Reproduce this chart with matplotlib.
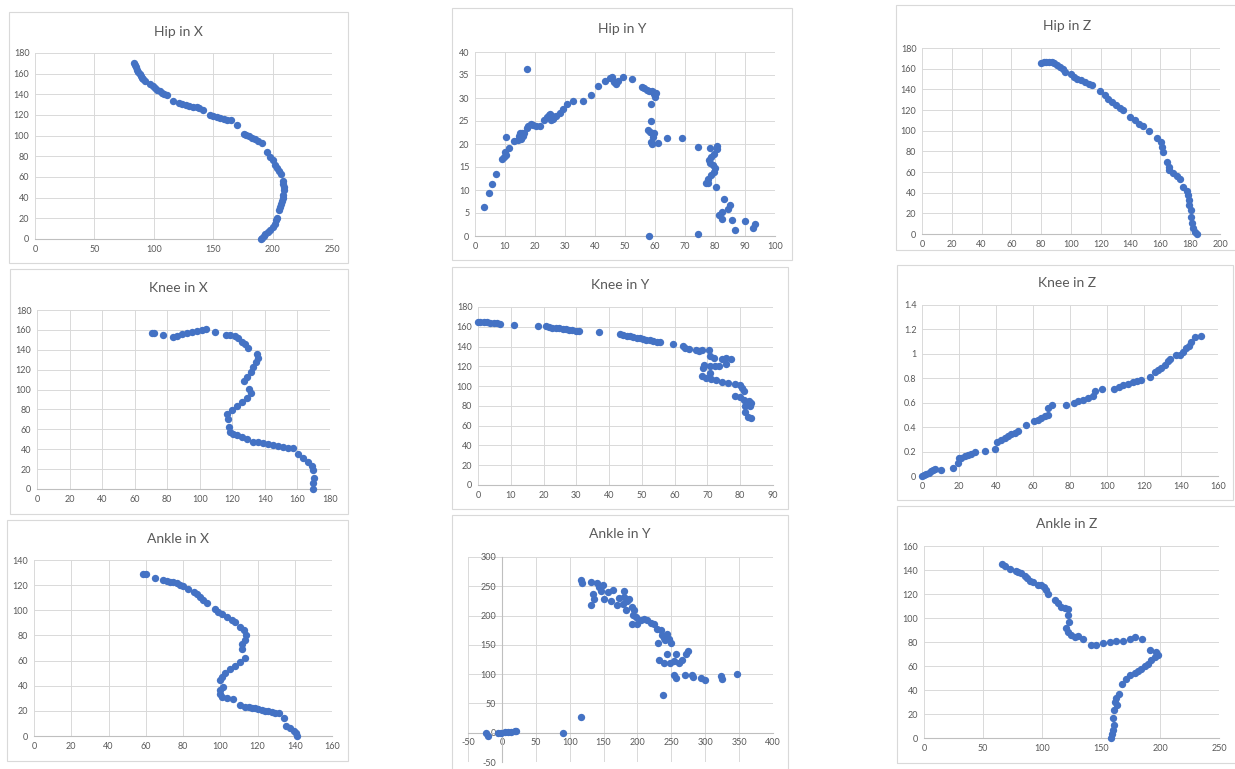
"""Lower-limb joint traces: hip, knee and ankle, each plotted per axis (X, Y, Z)."""

import matplotlib
matplotlib.use("Agg")
import matplotlib.pyplot as plt
import numpy as np
from matplotlib.patches import Rectangle
from matplotlib.ticker import FuncFormatter

W, H = 1235, 769

# ---- recorded samples, (horizontal value, vertical value) ----
hip_x = [(83, 170), (84, 168), (85, 166), (86, 164), (87, 162), (88, 160), (89, 158),
         (90, 156), (91, 155), (93, 153), (97, 150), (99, 148), (101, 146), (103, 144),
         (105, 143), (107, 141), (109, 140), (111, 139), (116, 134), (121, 132),
         (124, 131), (127, 130), (130, 129), (133, 128), (136, 128), (138, 127),
         (141, 125), (147, 120), (150, 119), (153, 118), (156, 117), (159, 116),
         (162, 115), (165, 115), (170, 110), (176, 102), (178, 101), (180, 100),
         (183, 98), (185, 97), (188, 95), (191, 93), (195, 84), (198, 79), (200, 76),
         (202, 72), (204, 69), (205, 66), (207, 63), (209, 56), (209, 53), (210, 50),
         (210, 47), (209, 43), (209, 40), (208, 37), (207, 34), (206, 31), (205, 28),
         (204, 20), (203, 18), (202, 15), (200, 12), (198, 9), (196, 7), (194, 5),
         (193, 3), (191, 1), (190, 0)]

hip_y = [(3.1, 6.2), (4.8, 9.4), (5.6, 11.2), (7.1, 13.5), (9.1, 16.7), (9.8, 17.1),
         (10.2, 17.6), (10.0, 18.3), (10.4, 21.6), (11.4, 19.2), (13.1, 20.7),
         (14.4, 20.8), (14.7, 21.8), (15.0, 22.4), (15.3, 21.4), (15.2, 21.0),
         (16.0, 21.8), (15.8, 22.3), (16.4, 22.3), (17.2, 23.4), (17.8, 24.0),
         (18.7, 24.3), (19.4, 24.2), (20.3, 23.9), (21.7, 23.9), (23.0, 25.2),
         (23.9, 25.9), (24.7, 26.2), (25.1, 26.5), (25.5, 26.0), (25.3, 25.3),
         (26.1, 25.5), (27.0, 26.1), (28.3, 26.8), (29.4, 27.6), (30.8, 28.8),
         (32.8, 29.4), (36.1, 29.4), (38.6, 30.7), (41.1, 32.6), (43.3, 33.7),
         (45.0, 34.4), (45.8, 34.6), (46.3, 33.5), (46.9, 33.1), (47.8, 33.6),
         (49.4, 34.6), (52.4, 34.1), (55.6, 32.3), (56.4, 32.2), (57.2, 31.8),
         (58.0, 31.5), (58.9, 31.5), (59.4, 31.3), (59.8, 30.8), (60.2, 31.0),
         (60.0, 30.2), (58.7, 28.8), (58.6, 25.0), (57.8, 23.1), (58.3, 22.6),
         (58.9, 22.4), (59.4, 21.6), (59.8, 22.4), (58.7, 20.5), (59.1, 20.1),
         (60.9, 20.3), (64.1, 21.3), (68.9, 21.3), (74.4, 19.4), (78.4, 19.2),
         (80.6, 19.5), (80.8, 18.9), (79.8, 17.9), (78.7, 17.2), (78.1, 16.5),
         (78.3, 15.8), (79.4, 15.4), (80.0, 14.7), (79.6, 14.0), (78.6, 13.2),
         (77.6, 12.3), (76.9, 11.6), (77.8, 11.6), (80.2, 10.7), (83.1, 8.0),
         (84.2, 5.8), (85.0, 6.7), (82.2, 5.3), (81.4, 4.6), (82.4, 3.8), (85.8, 3.5),
         (86.7, 1.3), (90.0, 3.3), (92.8, 1.8), (93.3, 2.6), (74.4, 0.4), (58.0, 0.0),
         (17.2, 36.2)]

hip_z = [(80.2, 165.8), (81.7, 166.2), (83.5, 166.5), (85.3, 166.5), (87.1, 166.2),
         (88.9, 165.5), (90.7, 163.9), (92.5, 161.6), (94.3, 159.4), (96.1, 157.1),
         (99.9, 154.5), (101.9, 152.0), (104.1, 150.4), (106.4, 148.7), (109.1, 147.1),
         (111.8, 145.5), (113.8, 143.9), (119.4, 138.4), (122.9, 134.3), (124.9, 131.0),
         (127.2, 127.8), (130.1, 124.6), (132.8, 122.3), (135.0, 120.4), (139.9, 113.3),
         (142.9, 110.1), (145.8, 106.9), (148.5, 104.3), (152.5, 99.8), (157.5, 93.0),
         (160.1, 89.2), (161.0, 84.4), (161.5, 79.5), (164.2, 69.9), (165.5, 65.0),
         (166.0, 61.8), (168.6, 58.6), (171.3, 56.0), (173.1, 52.8), (175.4, 45.7),
         (177.6, 41.9), (178.7, 37.7), (179.2, 32.8), (179.4, 28.0), (180.3, 23.2),
         (180.5, 16.7), (181.0, 10.9), (182.1, 5.5), (183.4, 1.9), (184.3, 0.0)]

knee_x = [(70.6, 157.2), (72.0, 157.2), (77.7, 154.9), (83.5, 152.9), (85.9, 154.2),
          (89.0, 155.5), (92.0, 156.9), (95.1, 158.2), (98.2, 159.2), (101.2, 159.9),
          (103.7, 160.6), (109.4, 158.2), (116.2, 154.9), (118.6, 154.9), (121.7, 153.5),
          (123.7, 151.5), (125.8, 148.2), (127.8, 145.5), (129.9, 141.5), (135.0, 135.4),
          (136.0, 131.4), (134.6, 128.1), (133.0, 123.0), (131.3, 118.0), (128.8, 113.0),
          (127.4, 108.6), (130.4, 100.6), (131.3, 96.2), (128.8, 91.9), (125.8, 87.8),
          (122.7, 83.8), (119.7, 79.8), (116.6, 75.1), (117.4, 70.4), (118.0, 62.0),
          (118.5, 57.7), (120.6, 55.0), (122.7, 54.3), (126.0, 52.6), (128.9, 50.3),
          (133.0, 47.6), (136.0, 46.8), (139.1, 45.9), (142.0, 45.0), (145.2, 44.2),
          (148.3, 43.4), (151.4, 42.6), (154.5, 41.7), (157.5, 40.9), (160.6, 34.9),
          (163.6, 30.8), (166.7, 27.5), (168.8, 23.5), (169.8, 19.1), (170.2, 10.7),
          (169.8, 5.7), (169.4, 0.0)]

knee_y = [(0.0, 164.8), (0.7, 164.8), (1.7, 164.5), (2.7, 164.5), (3.8, 164.1),
          (4.8, 163.8), (5.8, 163.4), (6.8, 163.1), (10.9, 162.1), (18.3, 161.1),
          (20.7, 160.4), (21.7, 159.7), (22.7, 159.1), (23.7, 158.7), (24.8, 158.4),
          (25.8, 157.7), (26.8, 157.4), (27.8, 157.0), (28.8, 156.7), (29.8, 156.0),
          (30.8, 155.7), (36.9, 154.3), (43.3, 153.0), (44.3, 151.6), (45.4, 151.0),
          (46.4, 150.3), (47.4, 149.6), (48.4, 148.9), (49.4, 148.3), (50.4, 147.6),
          (51.4, 146.9), (52.5, 146.2), (53.5, 145.6), (54.5, 144.9), (55.5, 144.2),
          (59.6, 142.5), (62.6, 140.8), (63.3, 138.5), (64.3, 137.5), (66.4, 136.8),
          (67.4, 135.4), (68.4, 136.8), (70.5, 136.1), (70.9, 130.0), (72.1, 128.3),
          (74.3, 127.7), (75.8, 128.0), (77.3, 127.7), (75.8, 122.6), (73.6, 120.6),
          (72.2, 119.9), (70.7, 119.9), (69.0, 121.3), (68.7, 118.2), (68.4, 109.8),
          (69.7, 108.1), (70.7, 113.1), (71.2, 107.1), (72.7, 105.7), (74.3, 104.4),
          (76.3, 103.0), (78.5, 101.7), (79.8, 101.0), (80.6, 98.3), (81.1, 94.6),
          (78.5, 89.5), (79.8, 88.8), (81.1, 86.1), (82.6, 84.8), (83.2, 82.7),
          (81.4, 79.4), (82.9, 79.4), (81.4, 74.3), (82.4, 68.6), (83.2, 67.5)]

knee_z = [(0.0, 0.0), (1.1, 0.008), (2.3, 0.019), (3.6, 0.027), (4.9, 0.038),
          (5.9, 0.049), (6.8, 0.057), (10.1, 0.052), (16.8, 0.063), (19.5, 0.109),
          (19.8, 0.144), (21.3, 0.149), (23.1, 0.16), (24.9, 0.171), (26.7, 0.182),
          (28.5, 0.198), (33.9, 0.204), (39.6, 0.223), (40.5, 0.28), (42.9, 0.296),
          (44.7, 0.313), (46.5, 0.326), (48.3, 0.34), (50.1, 0.353), (51.9, 0.367),
          (56.4, 0.421), (60.5, 0.448), (62.7, 0.462), (64.5, 0.476), (66.3, 0.489),
          (68.1, 0.503), (68.1, 0.557), (70.5, 0.584), (78.0, 0.584), (82.0, 0.595),
          (84.3, 0.612), (87.0, 0.625), (89.7, 0.639), (92.4, 0.652), (93.3, 0.699),
          (97.3, 0.712), (103.8, 0.715), (106.5, 0.731), (108.6, 0.742), (111.4, 0.756),
          (114.1, 0.769), (116.2, 0.78), (118.6, 0.786), (123.4, 0.807), (125.8, 0.851),
          (127.6, 0.864), (129.4, 0.883), (131.2, 0.905), (133.0, 0.938), (133.9, 0.96),
          (137.1, 0.987), (139.6, 0.987), (141.1, 1.019), (142.9, 1.046), (144.3, 1.068),
          (145.2, 1.101), (147.7, 1.139), (150.6, 1.147)]

ankle_x = [(58.7, 128.9), (59.9, 128.6), (64.9, 126.0), (69.4, 124.1), (71.2, 123.6),
           (73.0, 122.8), (74.8, 122.2), (76.6, 121.5), (78.4, 120.1), (79.8, 119.1),
           (82.9, 116.7), (85.9, 114.8), (87.7, 112.7), (89.1, 110.6), (90.9, 108.2),
           (92.7, 106.1), (97.2, 101.0), (99.0, 98.9), (100.8, 96.8), (103.5, 94.7),
           (106.2, 92.5), (108.0, 90.9), (110.7, 87.0), (112.5, 84.3), (113.7, 80.3),
           (113.4, 76.4), (111.6, 72.9), (111.6, 69.2), (113.4, 61.8), (110.7, 58.6),
           (108.0, 55.7), (105.3, 53.0), (102.6, 49.9), (100.8, 47.2), (99.9, 44.6),
           (101.3, 39.2), (99.9, 36.6), (99.6, 33.1), (100.8, 31.3), (103.5, 30.0),
           (107.1, 29.4), (110.7, 24.7), (113.4, 23.3), (115.2, 22.9), (117.0, 22.5),
           (118.8, 22.0), (120.5, 21.5), (122.3, 20.9), (124.1, 20.2), (125.9, 19.5),
           (127.7, 18.8), (129.5, 18.5), (131.3, 18.3), (134.0, 14.1), (135.4, 8.2),
           (137.6, 6.1), (139.4, 4.2), (140.6, 2.1), (141.2, 0.3)]

ankle_y = [(-23.0, 0.0), (-20.5, -5.7), (-5.7, -1.1), (-0.8, 0.0), (4.1, 0.6),
           (9.0, 1.1), (13.9, 1.7), (18.9, 2.3), (21.3, 3.4), (90.2, 0.0), (117.2, 26.1),
           (117.2, 261.4), (118.2, 255.7), (131.0, 256.8), (134.4, 237.5), (132.0, 217.6),
           (140.3, 255.7), (143.8, 248.9), (148.6, 251.7), (151.1, 229.0), (136.3, 229.0),
           (156.0, 240.3), (146.2, 242.0), (160.9, 225.0), (163.4, 243.2), (169.8, 217.6),
           (173.1, 230.7), (178.1, 220.5), (180.5, 242.0), (182.9, 209.1), (184.4, 225.0),
           (187.8, 229.0), (180.5, 231.8), (192.5, 214.8), (195.0, 209.1), (194.0, 200.6),
           (197.4, 197.7), (192.5, 185.2), (199.8, 186.4), (204.8, 192.0), (209.7, 194.9),
           (214.6, 192.0), (219.5, 187.5), (224.4, 186.4), (229.4, 177.8), (234.3, 175.0),
           (236.8, 166.5), (239.2, 162.5), (243.2, 169.3), (240.2, 158.0), (230.3, 153.4),
           (246.6, 160.8), (249.1, 154.0), (232.3, 123.9), (239.7, 119.3), (243.7, 134.1),
           (248.6, 118.2), (254.5, 122.7), (257.0, 135.2), (261.9, 118.2), (265.4, 125.0),
           (271.8, 135.2), (274.2, 139.8), (237.8, 64.2), (254.0, 98.3), (257.5, 92.6),
           (269.8, 98.9), (280.5, 98.9), (282.0, 94.3), (294.3, 92.6), (299.2, 89.8),
           (323.8, 96.6), (324.8, 91.5), (347.4, 100.0)]

ankle_z = [(66.4, 144.7), (68.4, 143.3), (73.2, 140.8), (77.7, 139.4), (79.7, 138.6),
           (82.5, 137.2), (85.3, 134.9), (87.3, 133.0), (89.5, 131.1), (92.4, 129.9),
           (96.6, 127.7), (99.4, 127.7), (101.4, 126.0), (103.1, 123.3), (105.1, 119.9),
           (110.7, 114.9), (113.6, 112.1), (116.4, 109.3), (119.2, 108.0), (122.0, 107.4),
           (122.0, 102.4), (122.9, 96.8), (120.6, 91.3), (122.0, 88.5), (124.8, 85.7),
           (127.7, 84.3), (130.5, 84.9), (134.7, 82.9), (141.2, 77.4), (146.0, 77.4),
           (151.7, 79.3), (157.3, 80.1), (163.0, 80.7), (168.6, 81.0), (174.3, 82.1),
           (178.5, 84.3), (184.7, 82.1), (191.8, 73.7), (196.9, 71.8), (198.3, 69.0),
           (195.5, 67.1), (192.7, 64.8), (189.8, 62.0), (187.0, 59.8), (184.2, 57.9),
           (181.4, 55.9), (178.5, 54.3), (174.9, 52.3), (170.9, 49.5), (167.8, 45.4),
           (165.3, 37.0), (163.0, 33.7), (161.6, 30.1), (163.6, 27.3), (160.7, 23.1),
           (160.2, 17.0), (160.7, 10.6), (160.2, 6.4), (159.3, 3.1), (158.8, 0.3)]

# ---- panel layout in pixels: plot box (l, t, r, b), frame box, title centre ----
panels = [
    ("Hip in X", hip_x, (0, 250, 50), (0, 180, 20), (35, 53, 332, 239), (9, 12, 348, 263), (178, 32)),
    ("Hip in Y", hip_y, (0, 100, 10), (0, 40, 5), (475, 52, 775, 236), (452, 8, 792, 260), (622, 29)),
    ("Hip in Z", hip_z, (0, 200, 20), (0, 180, 20), (922, 48, 1220, 234), (896, 5, 1240, 250), (1067, 26)),
    ("Knee in X", knee_x, (0, 180, 20), (0, 180, 20), (37, 310, 330, 489), (10, 269, 348, 514), (178, 288)),
    ("Knee in Y", knee_y, (0, 90, 10), (0, 180, 20), (478, 307, 773, 485), (452, 267, 788, 509), (620, 285)),
    ("Knee in Z", knee_z, (0, 160, 20), (0, 1.4, 0.2), (922, 305, 1218, 476), (897, 265, 1233, 500), (1067, 283)),
    ("Ankle in X", ankle_x, (0, 160, 20), (0, 140, 20), (34, 560, 332, 736), (7, 520, 348, 761), (178, 539)),
    ("Ankle in Y", ankle_y, (-50, 400, 50), (-50, 300, 50), (468, 557, 773, 762), (452, 515, 788, 780), (620, 534)),
    ("Ankle in Z", ankle_z, (0, 250, 50), (0, 160, 20), (924, 546, 1219, 738), (897, 506, 1240, 763), (1067, 524)),
]

BLUE = "#4472C4"
GRID = "#d9d9d9"
TEXT = "#595959"

plt.rcParams["font.family"] = ["Lato", "DejaVu Sans"]

fig = plt.figure(figsize=(W / 100, H / 100), dpi=100)
fig.patch.set_facecolor("white")

fmt = FuncFormatter(lambda v, _: f"{v:g}")

for title, pts, (x0, x1, xs), (y0, y1, ys), box, frame, tpos in panels:
    fl, ft, fr, fb = frame
    fig.add_artist(Rectangle((fl / W, 1 - fb / H), (fr - fl) / W, (fb - ft) / H,
                             transform=fig.transFigure, fill=False,
                             edgecolor=GRID, linewidth=0.8))
    fig.text(tpos[0] / W, 1 - tpos[1] / H, title, ha="center", va="center",
             fontsize=10, color=TEXT)

    l, t, r, b = box
    ax = fig.add_axes([l / W, 1 - b / H, (r - l) / W, (b - t) / H])
    ax.set_facecolor("none")
    xv = [p[0] for p in pts]
    yv = [p[1] for p in pts]
    ax.scatter(xv, yv, s=28, color=BLUE, linewidths=0, clip_on=False, zorder=3)

    ax.set_xlim(x0, x1)
    ax.set_ylim(y0, y1)
    ax.set_xticks(np.arange(x0, x1 + xs / 2, xs))
    ax.set_yticks(np.arange(y0, y1 + ys / 2, ys))
    ax.xaxis.set_major_formatter(fmt)
    ax.yaxis.set_major_formatter(fmt)
    ax.grid(True, color=GRID, linewidth=0.7)
    ax.set_axisbelow(True)
    ax.tick_params(length=0, labelsize=6.5, labelcolor=TEXT, pad=4)

    for side in ("top", "right"):
        ax.spines[side].set_visible(False)
    ax.spines["bottom"].set_position(("data", 0))
    ax.spines["bottom"].set_color("#bfbfbf")
    ax.spines["bottom"].set_linewidth(0.8)
    if x0 < 0:
        ax.spines["left"].set_position(("data", 0))
        ax.spines["left"].set_color("#bfbfbf")
        ax.spines["left"].set_linewidth(0.8)
    else:
        ax.spines["left"].set_visible(False)

fig.savefig("out.png", dpi=100)
plt.close(fig)
